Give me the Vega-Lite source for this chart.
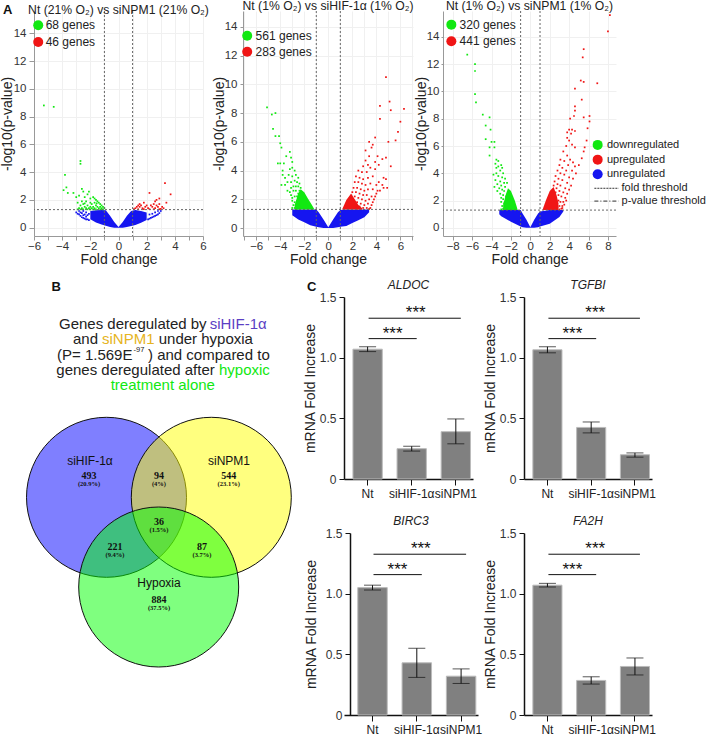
{"$schema":"https://vega.github.io/schema/vega-lite/v6.json","padding":{"left":0,"top":0,"right":0,"bottom":0},"spacing":12,"align":"none",
"config":{"font":"Liberation Sans","view":{"stroke":null},"axis":{"labelFont":"Liberation Sans","titleFont":"Liberation Sans","titleFontWeight":"normal"},"title":{"font":"Liberation Sans","fontWeight":"normal"},"text":{"font":"Liberation Sans"}},
"datasets":{
"th":[{"x":-1},{"x":1}],"p":[{"y":1.3}],
"l1":[{"x":-5.7,"y":14.57,"g":"d","t":"68 genes","tx":-5.17},{"x":-5.7,"y":13.37,"g":"u","t":"46 genes","tx":-5.17}],
"l2":[{"x":-6.75,"y":13.38,"g":"d","t":"561 genes","tx":-6.05},{"x":-6.75,"y":12.27,"g":"u","t":"283 genes","tx":-6.05}],
"l3":[{"x":-8.14,"y":14.9,"g":"d","t":"320 genes","tx":-7.29},{"x":-8.14,"y":13.68,"g":"u","t":"441 genes","tx":-7.29}],
"l4":[{"x":6.94,"y":6.08,"g":"d","t":"downregulated","tx":7.9},{"x":6.94,"y":5.0,"g":"u","t":"upregulated","tx":7.9},{"x":6.94,"y":3.93,"g":"n","t":"unregulated","tx":7.9}],
"a1b":[{"x":-2.0,"lo":0.6,"hi":1.2},{"x":-1.6,"lo":0.38,"hi":1.25},{"x":-1.2,"lo":0.22,"hi":1.28},{"x":-0.9,"lo":0.14,"hi":1.25},{"x":-0.6,"lo":0.05,"hi":0.85},{"x":-0.3,"lo":0,"hi":0.4},{"x":0,"lo":0,"hi":0.05},{"x":0.3,"lo":0,"hi":0.4},{"x":0.6,"lo":0.05,"hi":0.85},{"x":0.9,"lo":0.12,"hi":1.2},{"x":1.2,"lo":0.2,"hi":1.28},{"x":1.6,"lo":0.35,"hi":1.2},{"x":2.0,"lo":0.55,"hi":1.1}],
"a2b":[{"x":-3.0,"lo":0.9,"hi":1.3},{"x":-2.5,"lo":0.6,"hi":1.3},{"x":-2,"lo":0.4,"hi":1.3},{"x":-1.5,"lo":0.2,"hi":1.3},{"x":-1,"lo":0.1,"hi":1.3},{"x":-0.8,"lo":0.05,"hi":1.1},{"x":-0.4,"lo":0,"hi":0.6},{"x":0,"lo":0,"hi":0.05},{"x":0.4,"lo":0,"hi":0.6},{"x":0.8,"lo":0.05,"hi":1.1},{"x":1,"lo":0.1,"hi":1.25},{"x":1.5,"lo":0.15,"hi":1.3},{"x":2,"lo":0.35,"hi":1.3},{"x":2.5,"lo":0.55,"hi":1.3},{"x":3,"lo":0.75,"hi":1.3},{"x":3.4,"lo":1.1,"hi":1.3}],
"a2g":[{"x":-2.8,"lo":1.3,"hi":1.6},{"x":-2.5,"lo":1.3,"hi":2.4},{"x":-2.3,"lo":1.3,"hi":2.7},{"x":-2,"lo":1.3,"hi":2.5},{"x":-1.7,"lo":1.3,"hi":2.05},{"x":-1.4,"lo":1.3,"hi":1.65},{"x":-1.15,"lo":1.3,"hi":1.3}],
"a2r":[{"x":1.15,"lo":1.3,"hi":1.3},{"x":1.5,"lo":1.3,"hi":1.95},{"x":1.9,"lo":1.3,"hi":2.4},{"x":2.2,"lo":1.3,"hi":2.0},{"x":2.5,"lo":1.3,"hi":1.6},{"x":2.8,"lo":1.3,"hi":1.4}],
"a3b":[{"x":-3.2,"lo":1.0,"hi":1.3},{"x":-3,"lo":0.85,"hi":1.3},{"x":-2,"lo":0.45,"hi":1.3},{"x":-1,"lo":0.1,"hi":1.3},{"x":-0.8,"lo":0.05,"hi":1.05},{"x":-0.4,"lo":0,"hi":0.6},{"x":0,"lo":0,"hi":0.05},{"x":0.4,"lo":0,"hi":0.6},{"x":0.8,"lo":0.05,"hi":1.05},{"x":1,"lo":0.1,"hi":1.2},{"x":2,"lo":0.3,"hi":1.3},{"x":3,"lo":0.8,"hi":1.3},{"x":3.4,"lo":1.2,"hi":1.3}],
"a3g":[{"x":-2.8,"lo":1.3,"hi":1.7},{"x":-2.5,"lo":1.3,"hi":2.5},{"x":-2.3,"lo":1.3,"hi":2.9},{"x":-2,"lo":1.3,"hi":2.7},{"x":-1.6,"lo":1.3,"hi":2.0},{"x":-1.3,"lo":1.3,"hi":1.3}],
"a3r":[{"x":1.25,"lo":1.3,"hi":1.3},{"x":1.6,"lo":1.3,"hi":2.0},{"x":2,"lo":1.3,"hi":2.7},{"x":2.4,"lo":1.3,"hi":3.0},{"x":2.7,"lo":1.3,"hi":2.4},{"x":2.9,"lo":1.3,"hi":1.8}],
"v1":[{"x":-5.3,"y":8.8,"g":"d"},{"x":-4.6,"y":8.7,"g":"d"},{"x":-2.7,"y":4.8,"g":"d"},{"x":-2.7,"y":4.6,"g":"d"},{"x":-3.8,"y":3.8,"g":"d"},{"x":-3.7,"y":2.9,"g":"d"},{"x":-3.9,"y":2.7,"g":"d"},{"x":-3.6,"y":2.5,"g":"d"},{"x":-3.2,"y":2.5,"g":"d"},{"x":-3.0,"y":2.2,"g":"d"},{"x":-2.6,"y":2.8,"g":"d"},{"x":-2.5,"y":2.6,"g":"d"},{"x":-2.1,"y":2.6,"g":"d"},{"x":-2.2,"y":2.4,"g":"d"},{"x":-2.8,"y":2.3,"g":"d"},{"x":-2.4,"y":2.2,"g":"d"},{"x":-2.0,"y":2.1,"g":"d"},{"x":-1.8,"y":2.2,"g":"d"},{"x":-1.7,"y":2.1,"g":"d"},{"x":-1.6,"y":2.0,"g":"d"},{"x":-1.5,"y":1.9,"g":"d"},{"x":-2.6,"y":1.9,"g":"d"},{"x":-2.9,"y":1.8,"g":"d"},{"x":-2.3,"y":1.9,"g":"d"},{"x":-2.0,"y":1.8,"g":"d"},{"x":-1.7,"y":1.8,"g":"d"},{"x":-1.4,"y":1.8,"g":"d"},{"x":-1.3,"y":1.7,"g":"d"},{"x":-1.9,"y":1.7,"g":"d"},{"x":-2.5,"y":1.7,"g":"d"},{"x":-2.7,"y":1.6,"g":"d"},{"x":-2.2,"y":1.6,"g":"d"},{"x":-1.6,"y":1.6,"g":"d"},{"x":-1.2,"y":1.6,"g":"d"},{"x":-2.4,"y":1.5,"g":"d"},{"x":-2.0,"y":1.5,"g":"d"},{"x":-1.8,"y":1.5,"g":"d"},{"x":-1.5,"y":1.5,"g":"d"},{"x":-1.3,"y":1.5,"g":"d"},{"x":-1.1,"y":1.5,"g":"d"},{"x":-2.8,"y":1.4,"g":"d"},{"x":-2.6,"y":1.4,"g":"d"},{"x":-2.3,"y":1.4,"g":"d"},{"x":-2.1,"y":1.4,"g":"d"},{"x":-1.9,"y":1.4,"g":"d"},{"x":-1.7,"y":1.4,"g":"d"},{"x":-1.4,"y":1.4,"g":"d"},{"x":-1.2,"y":1.4,"g":"d"},{"x":-1.0,"y":1.4,"g":"d"},{"x":-2.9,"y":1.32,"g":"d"},{"x":-2.7,"y":1.32,"g":"d"},{"x":-2.5,"y":1.32,"g":"d"},{"x":-2.2,"y":1.32,"g":"d"},{"x":-2.0,"y":1.32,"g":"d"},{"x":-1.8,"y":1.32,"g":"d"},{"x":-1.6,"y":1.32,"g":"d"},{"x":-1.3,"y":1.32,"g":"d"},{"x":-1.1,"y":1.32,"g":"d"},{"x":-2.4,"y":1.75,"g":"d"},{"x":-1.55,"y":1.75,"g":"d"},
{"x":3.3,"y":3.2,"g":"u"},{"x":3.7,"y":2.4,"g":"u"},{"x":2.2,"y":2.5,"g":"u"},{"x":2.9,"y":2.1,"g":"u"},{"x":2.7,"y":2.0,"g":"u"},{"x":2.6,"y":1.9,"g":"u"},{"x":3.4,"y":1.8,"g":"u"},{"x":2.5,"y":1.7,"g":"u"},{"x":2.9,"y":1.7,"g":"u"},{"x":1.8,"y":1.8,"g":"u"},{"x":1.5,"y":1.7,"g":"u"},{"x":1.4,"y":1.6,"g":"u"},{"x":1.6,"y":1.6,"g":"u"},{"x":2.0,"y":1.6,"g":"u"},{"x":2.3,"y":1.6,"g":"u"},{"x":2.7,"y":1.6,"g":"u"},{"x":3.1,"y":1.5,"g":"u"},{"x":1.3,"y":1.5,"g":"u"},{"x":1.5,"y":1.5,"g":"u"},{"x":1.9,"y":1.5,"g":"u"},{"x":2.4,"y":1.5,"g":"u"},{"x":2.8,"y":1.5,"g":"u"},{"x":3.2,"y":1.4,"g":"u"},{"x":1.2,"y":1.4,"g":"u"},{"x":1.7,"y":1.4,"g":"u"},{"x":2.1,"y":1.4,"g":"u"},{"x":2.6,"y":1.4,"g":"u"},{"x":3.0,"y":1.35,"g":"u"},{"x":1.1,"y":1.33,"g":"u"},{"x":1.4,"y":1.33,"g":"u"},{"x":1.8,"y":1.33,"g":"u"},{"x":2.2,"y":1.33,"g":"u"},{"x":2.5,"y":1.33,"g":"u"},{"x":2.9,"y":1.33,"g":"u"},
{"x":-3.0,"y":1.1,"g":"n"},{"x":-2.9,"y":1.0,"g":"n"},{"x":-2.8,"y":1.2,"g":"n"},{"x":-2.8,"y":0.95,"g":"n"},{"x":-2.7,"y":1.1,"g":"n"},{"x":-2.7,"y":0.85,"g":"n"},{"x":-2.6,"y":0.75,"g":"n"},{"x":-2.6,"y":1.05,"g":"n"},{"x":-2.5,"y":0.9,"g":"n"},{"x":-2.5,"y":0.7,"g":"n"},{"x":-2.5,"y":1.2,"g":"n"},{"x":-2.4,"y":0.65,"g":"n"},{"x":-2.4,"y":0.95,"g":"n"},{"x":-2.3,"y":0.8,"g":"n"},{"x":-2.3,"y":0.6,"g":"n"},{"x":-2.3,"y":1.1,"g":"n"},{"x":-2.2,"y":0.6,"g":"n"},{"x":-2.2,"y":0.9,"g":"n"},{"x":-2.1,"y":0.55,"g":"n"},{"x":-2.1,"y":1.0,"g":"n"},{"x":2.1,"y":0.6,"g":"n"},{"x":2.2,"y":0.65,"g":"n"},{"x":2.2,"y":0.95,"g":"n"},{"x":2.3,"y":0.7,"g":"n"},{"x":2.4,"y":0.75,"g":"n"},{"x":2.4,"y":1.0,"g":"n"},{"x":2.5,"y":0.8,"g":"n"},{"x":2.6,"y":0.85,"g":"n"},{"x":2.6,"y":1.1,"g":"n"},{"x":2.7,"y":0.9,"g":"n"},{"x":2.8,"y":0.95,"g":"n"},{"x":2.8,"y":1.2,"g":"n"},{"x":2.9,"y":1.05,"g":"n"},{"x":3.0,"y":1.2,"g":"n"}],
"v2":[{"x":-5.1,"y":8.4,"g":"d"},{"x":-4.7,"y":7.9,"g":"d"},{"x":-4.4,"y":8.0,"g":"d"},{"x":-4.6,"y":6.9,"g":"d"},{"x":-4.4,"y":6.4,"g":"d"},{"x":-4.1,"y":6.4,"g":"d"},{"x":-4.0,"y":5.9,"g":"d"},{"x":-3.9,"y":5.6,"g":"d"},{"x":-3.2,"y":5.3,"g":"d"},{"x":-3.5,"y":5.0,"g":"d"},{"x":-3.1,"y":4.9,"g":"d"},{"x":-4.2,"y":4.5,"g":"d"},{"x":-4.0,"y":4.5,"g":"d"},{"x":-3.7,"y":4.5,"g":"d"},{"x":-3.0,"y":4.6,"g":"d"},{"x":-3.8,"y":4.0,"g":"d"},{"x":-3.2,"y":4.1,"g":"d"},{"x":-3.0,"y":4.2,"g":"d"},{"x":-2.8,"y":4.0,"g":"d"},{"x":-3.8,"y":3.7,"g":"d"},{"x":-3.6,"y":3.5,"g":"d"},{"x":-3.3,"y":3.7,"g":"d"},{"x":-3.0,"y":3.6,"g":"d"},{"x":-2.7,"y":3.7,"g":"d"},{"x":-2.5,"y":3.5,"g":"d"},{"x":-3.6,"y":3.0,"g":"d"},{"x":-3.4,"y":3.2,"g":"d"},{"x":-3.1,"y":3.2,"g":"d"},{"x":-2.8,"y":3.3,"g":"d"},{"x":-2.6,"y":3.2,"g":"d"},{"x":-2.4,"y":3.1,"g":"d"},{"x":-3.9,"y":3.0,"g":"d"},{"x":-3.1,"y":2.8,"g":"d"},{"x":-2.9,"y":2.9,"g":"d"},{"x":-2.7,"y":2.9,"g":"d"},{"x":-2.5,"y":2.9,"g":"d"},{"x":-2.3,"y":2.8,"g":"d"},{"x":-3.4,"y":2.6,"g":"d"},{"x":-3.2,"y":2.5,"g":"d"},{"x":-2.9,"y":2.6,"g":"d"},{"x":-2.7,"y":2.6,"g":"d"},{"x":-2.5,"y":2.4,"g":"d"},{"x":-3.1,"y":2.3,"g":"d"},{"x":-3.0,"y":2.1,"g":"d"},{"x":-2.8,"y":2.2,"g":"d"},{"x":-2.6,"y":2.2,"g":"d"},{"x":-3.0,"y":1.9,"g":"d"},{"x":-2.8,"y":1.8,"g":"d"},{"x":-2.6,"y":1.9,"g":"d"},{"x":-2.9,"y":1.6,"g":"d"},{"x":-2.7,"y":1.5,"g":"d"},{"x":-2.5,"y":1.6,"g":"d"},{"x":-2.8,"y":1.4,"g":"d"},{"x":-3.0,"y":1.4,"g":"d"},{"x":-2.6,"y":1.35,"g":"d"},{"x":-2.4,"y":2.6,"g":"d"},{"x":-2.2,"y":2.5,"g":"d"},{"x":-2.4,"y":1.5,"g":"d"},
{"x":4.8,"y":10.5,"g":"u"},{"x":5.1,"y":8.8,"g":"u"},{"x":4.3,"y":8.5,"g":"u"},{"x":5.2,"y":8.2,"g":"u"},{"x":6.3,"y":8.3,"g":"u"},{"x":4.3,"y":7.6,"g":"u"},{"x":6.0,"y":7.4,"g":"u"},{"x":5.8,"y":6.7,"g":"u"},{"x":3.9,"y":6.3,"g":"u"},{"x":5.6,"y":6.1,"g":"u"},{"x":5.0,"y":6.0,"g":"u"},{"x":3.4,"y":6.0,"g":"u"},{"x":3.6,"y":5.6,"g":"u"},{"x":3.7,"y":5.8,"g":"u"},{"x":3.1,"y":5.4,"g":"u"},{"x":3.4,"y":5.0,"g":"u"},{"x":4.1,"y":5.0,"g":"u"},{"x":3.9,"y":4.6,"g":"u"},{"x":4.5,"y":4.8,"g":"u"},{"x":4.8,"y":4.9,"g":"u"},{"x":3.1,"y":4.7,"g":"u"},{"x":3.3,"y":4.4,"g":"u"},{"x":2.9,"y":4.3,"g":"u"},{"x":3.5,"y":4.2,"g":"u"},{"x":4.2,"y":4.4,"g":"u"},{"x":5.2,"y":4.3,"g":"u"},{"x":2.5,"y":4.0,"g":"u"},{"x":2.8,"y":3.9,"g":"u"},{"x":3.2,"y":3.9,"g":"u"},{"x":3.9,"y":4.1,"g":"u"},{"x":4.6,"y":3.5,"g":"u"},{"x":4.8,"y":3.4,"g":"u"},{"x":4.2,"y":3.2,"g":"u"},{"x":4.5,"y":3.0,"g":"u"},{"x":4.6,"y":2.8,"g":"u"},{"x":4.9,"y":2.8,"g":"u"},{"x":2.3,"y":3.6,"g":"u"},{"x":2.6,"y":3.5,"g":"u"},{"x":2.9,"y":3.4,"g":"u"},{"x":3.3,"y":3.5,"g":"u"},{"x":3.7,"y":3.6,"g":"u"},{"x":2.2,"y":3.2,"g":"u"},{"x":2.5,"y":3.2,"g":"u"},{"x":2.8,"y":3.1,"g":"u"},{"x":3.1,"y":3.0,"g":"u"},{"x":3.5,"y":3.1,"g":"u"},{"x":4.0,"y":3.0,"g":"u"},{"x":4.3,"y":2.6,"g":"u"},{"x":2.1,"y":2.8,"g":"u"},{"x":2.4,"y":2.8,"g":"u"},{"x":2.7,"y":2.7,"g":"u"},{"x":3.0,"y":2.6,"g":"u"},{"x":3.3,"y":2.7,"g":"u"},{"x":3.7,"y":2.7,"g":"u"},{"x":4.0,"y":2.4,"g":"u"},{"x":4.1,"y":2.6,"g":"u"},{"x":2.0,"y":2.5,"g":"u"},{"x":2.3,"y":2.5,"g":"u"},{"x":2.6,"y":2.4,"g":"u"},{"x":2.9,"y":2.3,"g":"u"},{"x":3.2,"y":2.3,"g":"u"},{"x":3.6,"y":2.2,"g":"u"},{"x":3.9,"y":2.2,"g":"u"},{"x":3.8,"y":2.0,"g":"u"},{"x":1.9,"y":2.2,"g":"u"},{"x":2.2,"y":2.2,"g":"u"},{"x":2.5,"y":2.1,"g":"u"},{"x":2.8,"y":2.0,"g":"u"},{"x":3.1,"y":1.9,"g":"u"},{"x":3.4,"y":2.0,"g":"u"},{"x":3.7,"y":1.8,"g":"u"},{"x":2.1,"y":1.9,"g":"u"},{"x":2.4,"y":1.8,"g":"u"},{"x":2.7,"y":1.7,"g":"u"},{"x":3.0,"y":1.6,"g":"u"},{"x":3.3,"y":1.7,"g":"u"},{"x":3.6,"y":1.6,"g":"u"},{"x":3.5,"y":1.4,"g":"u"},{"x":3.2,"y":1.4,"g":"u"},{"x":2.9,"y":1.4,"g":"u"},{"x":2.6,"y":1.5,"g":"u"},{"x":2.3,"y":1.5,"g":"u"},{"x":2.4,"y":1.35,"g":"u"},{"x":2.7,"y":1.33,"g":"u"},{"x":3.4,"y":1.33,"g":"u"}],
"v3":[{"x":-6.5,"y":12.7,"g":"d"},{"x":-5.7,"y":12,"g":"d"},{"x":-5.7,"y":11.5,"g":"d"},{"x":-5.7,"y":9.8,"g":"d"},{"x":-5.6,"y":9.2,"g":"d"},{"x":-4.9,"y":8.3,"g":"d"},{"x":-4.2,"y":8.1,"g":"d"},{"x":-4.6,"y":7.5,"g":"d"},{"x":-4.1,"y":7.2,"g":"d"},{"x":-4.6,"y":6.5,"g":"d"},{"x":-4,"y":6.3,"g":"d"},{"x":-3.7,"y":6.3,"g":"d"},{"x":-4.2,"y":5.9,"g":"d"},{"x":-3.7,"y":5.9,"g":"d"},{"x":-4.2,"y":5.3,"g":"d"},{"x":-3.5,"y":5.0,"g":"d"},{"x":-3.3,"y":4.9,"g":"d"},{"x":-3.6,"y":4.7,"g":"d"},{"x":-3.0,"y":4.6,"g":"d"},{"x":-3.3,"y":4.5,"g":"d"},{"x":-3.5,"y":4.4,"g":"d"},{"x":-2.9,"y":4.4,"g":"d"},{"x":-3.1,"y":4.2,"g":"d"},{"x":-3.5,"y":4.0,"g":"d"},{"x":-3.8,"y":3.9,"g":"d"},{"x":-2.8,"y":4.0,"g":"d"},{"x":-3.3,"y":3.8,"g":"d"},{"x":-2.9,"y":3.7,"g":"d"},{"x":-3.6,"y":3.5,"g":"d"},{"x":-2.6,"y":3.6,"g":"d"},{"x":-3.1,"y":3.4,"g":"d"},{"x":-3.4,"y":3.2,"g":"d"},{"x":-2.7,"y":3.3,"g":"d"},{"x":-2.4,"y":3.3,"g":"d"},{"x":-3.0,"y":3.1,"g":"d"},{"x":-3.7,"y":3.0,"g":"d"},{"x":-2.6,"y":3.0,"g":"d"},{"x":-3.2,"y":2.9,"g":"d"},{"x":-2.9,"y":2.8,"g":"d"},{"x":-3.4,"y":2.7,"g":"d"},{"x":-2.7,"y":2.7,"g":"d"},{"x":-3.1,"y":2.5,"g":"d"},{"x":-2.8,"y":2.4,"g":"d"},{"x":-3.0,"y":2.2,"g":"d"},{"x":-2.5,"y":2.3,"g":"d"},{"x":-2.8,"y":2.1,"g":"d"},{"x":-3.0,"y":1.9,"g":"d"},{"x":-2.7,"y":1.8,"g":"d"},{"x":-2.9,"y":1.6,"g":"d"},{"x":-2.6,"y":1.6,"g":"d"},{"x":-2.8,"y":1.4,"g":"d"},{"x":-3.0,"y":1.35,"g":"d"},{"x":-2.5,"y":1.4,"g":"d"},
{"x":8.2,"y":15.6,"g":"u"},{"x":8.0,"y":14.4,"g":"u"},{"x":5.5,"y":13.1,"g":"u"},{"x":5.4,"y":12.5,"g":"u"},{"x":5.2,"y":10.8,"g":"u"},{"x":5.5,"y":10.7,"g":"u"},{"x":6.9,"y":10.6,"g":"u"},{"x":4.6,"y":10.2,"g":"u"},{"x":5.3,"y":9.4,"g":"u"},{"x":4.6,"y":8.9,"g":"u"},{"x":4.6,"y":8.6,"g":"u"},{"x":6.1,"y":8.2,"g":"u"},{"x":5.5,"y":8.1,"g":"u"},{"x":4.5,"y":8.2,"g":"u"},{"x":4.1,"y":8,"g":"u"},{"x":6.1,"y":7.8,"g":"u"},{"x":5.9,"y":7.3,"g":"u"},{"x":4.0,"y":7.2,"g":"u"},{"x":4.3,"y":7.2,"g":"u"},{"x":3.8,"y":7.0,"g":"u"},{"x":4.6,"y":7.1,"g":"u"},{"x":4.2,"y":6.9,"g":"u"},{"x":3.8,"y":6.6,"g":"u"},{"x":4,"y":6.4,"g":"u"},{"x":4.3,"y":6.1,"g":"u"},{"x":3.7,"y":6,"g":"u"},{"x":4.6,"y":5.9,"g":"u"},{"x":5.8,"y":6.4,"g":"u"},{"x":5.6,"y":5.9,"g":"u"},{"x":5.5,"y":5.6,"g":"u"},{"x":5.3,"y":5.1,"g":"u"},{"x":3.4,"y":5.6,"g":"u"},{"x":3.8,"y":5.3,"g":"u"},{"x":4.1,"y":5.0,"g":"u"},{"x":4.4,"y":4.8,"g":"u"},{"x":3.1,"y":5.0,"g":"u"},{"x":3.5,"y":4.9,"g":"u"},{"x":3.9,"y":4.6,"g":"u"},{"x":4.6,"y":4.5,"g":"u"},{"x":5.0,"y":4.6,"g":"u"},{"x":3.0,"y":4.6,"g":"u"},{"x":3.3,"y":4.4,"g":"u"},{"x":3.7,"y":4.2,"g":"u"},{"x":4.3,"y":4.2,"g":"u"},{"x":4.7,"y":4.0,"g":"u"},{"x":2.8,"y":4.2,"g":"u"},{"x":3.1,"y":4.0,"g":"u"},{"x":3.5,"y":3.9,"g":"u"},{"x":4.0,"y":3.7,"g":"u"},{"x":4.4,"y":3.6,"g":"u"},{"x":2.6,"y":3.8,"g":"u"},{"x":2.9,"y":3.6,"g":"u"},{"x":3.3,"y":3.5,"g":"u"},{"x":3.8,"y":3.3,"g":"u"},{"x":4.2,"y":3.1,"g":"u"},{"x":2.5,"y":3.4,"g":"u"},{"x":2.8,"y":3.2,"g":"u"},{"x":3.1,"y":3.1,"g":"u"},{"x":3.6,"y":2.9,"g":"u"},{"x":4.0,"y":2.8,"g":"u"},{"x":2.4,"y":3.1,"g":"u"},{"x":2.7,"y":2.9,"g":"u"},{"x":3.0,"y":2.7,"g":"u"},{"x":3.4,"y":2.6,"g":"u"},{"x":3.8,"y":2.5,"g":"u"},{"x":2.3,"y":2.8,"g":"u"},{"x":2.6,"y":2.6,"g":"u"},{"x":2.9,"y":2.4,"g":"u"},{"x":3.2,"y":2.3,"g":"u"},{"x":3.6,"y":2.2,"g":"u"},{"x":3.7,"y":2.0,"g":"u"},{"x":3.4,"y":1.9,"g":"u"},{"x":3.5,"y":1.7,"g":"u"},{"x":3.1,"y":1.9,"g":"u"},{"x":3.3,"y":1.6,"g":"u"},{"x":2.9,"y":2.0,"g":"u"},{"x":3.0,"y":1.6,"g":"u"},{"x":3.2,"y":1.4,"g":"u"},{"x":2.8,"y":1.5,"g":"u"},{"x":3.0,"y":1.35,"g":"u"},{"x":2.6,"y":2.2,"g":"u"},{"x":3.3,"y":1.45,"g":"u"}],
"bars":[{"gene":"ALDOC","c":"Nt","v":1.07,"lo":1.05,"hi":1.09},{"gene":"ALDOC","c":"siHIF-1α","v":0.25,"lo":0.23,"hi":0.27},{"gene":"ALDOC","c":"siNPM1","v":0.39,"lo":0.29,"hi":0.495},{"gene":"TGFBI","c":"Nt","v":1.065,"lo":1.04,"hi":1.09},{"gene":"TGFBI","c":"siHIF-1α","v":0.425,"lo":0.38,"hi":0.47},{"gene":"TGFBI","c":"siNPM1","v":0.2,"lo":0.18,"hi":0.215},{"gene":"BIRC3","c":"Nt","v":1.05,"lo":1.03,"hi":1.07},{"gene":"BIRC3","c":"siHIF-1α","v":0.43,"lo":0.31,"hi":0.55},{"gene":"BIRC3","c":"siNPM1","v":0.32,"lo":0.26,"hi":0.38},{"gene":"FA2H","c":"Nt","v":1.07,"lo":1.055,"hi":1.085},{"gene":"FA2H","c":"siHIF-1α","v":0.285,"lo":0.255,"hi":0.315},{"gene":"FA2H","c":"siNPM1","v":0.4,"lo":0.33,"hi":0.47}],
"sig":[{"a":"Nt","b":"siNPM1","v":1.325},{"a":"Nt","b":"siHIF-1α","v":1.157}],
"s1":[{"c":"siHIF-1α","v":1.39,"t":"***"}],"s2":[{"c":"Nt","v":1.22,"t":"***"}],
"vc":[{"x":107.5,"y":497,"k":"b"},{"x":212.3,"y":497,"k":"y"},{"x":159.7,"y":586.7,"k":"g"}],
"vn":[{"x":90,"y":475.7,"t":"493","p":"(20.9%)"},{"x":160,"y":475.7,"t":"94","p":"(4%)"},{"x":229.7,"y":475.7,"t":"544","p":"(23.1%)"},{"x":160,"y":522,"t":"36","p":"(1.5%)"},{"x":116,"y":547,"t":"221","p":"(9.4%)"},{"x":203,"y":547,"t":"87","p":"(3.7%)"},{"x":160,"y":600,"t":"884","p":"(37.5%)"}],
"vl":[{"x":91,"y":460.7,"t":"siHIF-1α"},{"x":230,"y":460.7,"t":"siNPM1"},{"x":160,"y":583,"t":"Hypoxia"}],
"hd":[{"x":60,"y":323.3,"t":"Genes deregulated by ","k":"p"},{"x":210.7,"y":323.3,"t":"siHIF-1α","k":"h"},{"x":74,"y":339,"t":"and ","k":"p"},{"x":103,"y":339,"t":"siNPM1","k":"m"},{"x":159.7,"y":339,"t":"under hypoxia","k":"p"},{"x":58,"y":354.3,"t":"(P= 1.569E","k":"p"},{"x":149,"y":354.3,"t":") and compared to","k":"p"},{"x":57.3,"y":370,"t":"genes deregulated after ","k":"p"},{"x":220,"y":370,"t":"hypoxic","k":"d"},{"x":111.7,"y":385,"t":"treatment alone","k":"d"}]
},
"vconcat":[
{"align":"none","hconcat":[
{"align":"none","hconcat":[
{"width":169,"height":225,"title":{"text":"Nt (21% O₂) vs siNPM1 (21% O₂)","fontSize":12.2,"offset":-13,"color":"#222"},
"layer":[
{"data":{"name":"a1b"},"mark":{"type":"area","color":"#1515f0"},"encoding":{"x":{"field":"x","type":"quantitative","title":"Fold change","scale":{"domain":[-6,6],"nice":false,"zero":false},"axis":{"values":[-6,-5,-4,-3,-2,-1,0,1,2,3,4,5,6],"tickCount":30,"format":"d","labelExpr":"datum.value%2==0?datum.label:''","labelOverlap":false,"labelFlush":false,"grid":true,"gridColor":"#f0f0f0","domainColor":"#999","tickColor":"#999","labelColor":"#333","labelFontSize":11.5,"titleFontSize":14,"titleColor":"#222","tickSize":4,"labelPadding":0,"titlePadding":1}},"y":{"field":"lo","type":"quantitative","title":"-log10(p-value)","scale":{"domain":[-0.6,15.6],"nice":false,"zero":false},"axis":{"values":[0,2,4,6,8,10,12,14],"tickCount":30,"format":"d","labelOverlap":false,"labelFlush":false,"grid":true,"gridColor":"#f0f0f0","domainColor":"#999","tickColor":"#999","labelColor":"#333","labelFontSize":11.5,"titleFontSize":14,"titleColor":"#222","tickSize":5,"labelPadding":3,"titlePadding":-1}},"y2":{"field":"hi"}}},
{"data":{"name":"v1"},"mark":{"type":"point","shape":"square","filled":true,"size":3,"opacity":1},"encoding":{"x":{"field":"x","type":"quantitative"},"y":{"field":"y","type":"quantitative"},"color":{"field":"g","type":"nominal","legend":null,"scale":{"domain":["d","u","n","p","h","m"],"range":["#11e811","#f01515","#1515f0","#222222","#5b3fc4","#e6b422"]}}}},
{"data":{"name":"th"},"mark":{"type":"rule","color":"#666","strokeDash":[2,2],"strokeWidth":1},"encoding":{"x":{"field":"x","type":"quantitative"}}},
{"data":{"name":"p"},"mark":{"type":"rule","color":"#666","strokeDash":[2,2],"strokeWidth":1},"encoding":{"y":{"field":"y","type":"quantitative"}}},
{"data":{"name":"l1"},"mark":{"type":"point","filled":true,"size":100,"opacity":1},"encoding":{"x":{"field":"x","type":"quantitative"},"y":{"field":"y","type":"quantitative"},"color":{"field":"g","type":"nominal","legend":null}}},
{"data":{"name":"l1"},"mark":{"type":"text","align":"left","baseline":"middle","fontSize":12,"color":"#222"},"encoding":{"x":{"field":"tx","type":"quantitative"},"y":{"field":"y","type":"quantitative"},"text":{"field":"t"}}},
{"data":{"values":[{"x":-8.2,"y":15.7,"t":"A"}]},"mark":{"type":"text","align":"left","baseline":"middle","fontSize":13,"fontWeight":"bold","color":"#111"},"encoding":{"x":{"field":"x","type":"quantitative"},"y":{"field":"y","type":"quantitative"},"text":{"field":"t"}}}
]},
{"width":170,"height":225,"title":{"text":"Nt (1% O₂) vs siHIF-1α (1% O₂)","fontSize":12.2,"offset":-2,"color":"#222"},
"layer":[
{"data":{"name":"a2b"},"mark":{"type":"area","color":"#1515f0"},"encoding":{"x":{"field":"x","type":"quantitative","title":"Fold change","scale":{"domain":[-7.1,7.05],"nice":false,"zero":false},"axis":{"values":[-7,-6,-5,-4,-3,-2,-1,0,1,2,3,4,5,6,7],"tickCount":30,"format":"d","labelExpr":"datum.value%2==0?datum.label:''","labelOverlap":false,"labelFlush":false,"grid":true,"gridColor":"#f0f0f0","domainColor":"#999","tickColor":"#999","labelColor":"#333","labelFontSize":11.5,"titleFontSize":14,"titleColor":"#222","tickSize":4,"labelPadding":0,"titlePadding":1}},"y":{"field":"lo","type":"quantitative","title":"-log10(p-value)","scale":{"domain":[-0.55,15.1],"nice":false,"zero":false},"axis":{"values":[0,2,4,6,8,10,12,14],"tickCount":30,"format":"d","labelOverlap":false,"labelFlush":false,"grid":true,"gridColor":"#f0f0f0","domainColor":"#999","tickColor":"#999","labelColor":"#333","labelFontSize":11.5,"titleFontSize":14,"titleColor":"#222","tickSize":3,"labelPadding":3,"titlePadding":-2}},"y2":{"field":"hi"}}},
{"data":{"name":"a2g"},"mark":{"type":"area","color":"#11e811"},"encoding":{"x":{"field":"x","type":"quantitative"},"y":{"field":"lo","type":"quantitative"},"y2":{"field":"hi"}}},
{"data":{"name":"a2r"},"mark":{"type":"area","color":"#f01515"},"encoding":{"x":{"field":"x","type":"quantitative"},"y":{"field":"lo","type":"quantitative"},"y2":{"field":"hi"}}},
{"data":{"name":"v2"},"mark":{"type":"point","shape":"square","filled":true,"size":3,"opacity":1},"encoding":{"x":{"field":"x","type":"quantitative"},"y":{"field":"y","type":"quantitative"},"color":{"field":"g","type":"nominal","legend":null}}},
{"data":{"name":"th"},"mark":{"type":"rule","color":"#666","strokeDash":[2,2],"strokeWidth":1},"encoding":{"x":{"field":"x","type":"quantitative"}}},
{"data":{"name":"p"},"mark":{"type":"rule","color":"#666","strokeDash":[2,2],"strokeWidth":1},"encoding":{"y":{"field":"y","type":"quantitative"}}},
{"data":{"name":"l2"},"mark":{"type":"point","filled":true,"size":100,"opacity":1},"encoding":{"x":{"field":"x","type":"quantitative"},"y":{"field":"y","type":"quantitative"},"color":{"field":"g","type":"nominal","legend":null}}},
{"data":{"name":"l2"},"mark":{"type":"text","align":"left","baseline":"middle","fontSize":12,"color":"#222"},"encoding":{"x":{"field":"tx","type":"quantitative"},"y":{"field":"y","type":"quantitative"},"text":{"field":"t"}}}
]}
],"spacing":3},
{"width":173,"height":225,"title":{"text":"Nt (1% O₂) vs siNPM1 (1% O₂)","fontSize":12.2,"offset":-2,"color":"#222"},
"layer":[
{"data":{"name":"a3b"},"mark":{"type":"area","color":"#1515f0"},"encoding":{"x":{"field":"x","type":"quantitative","title":"Fold change","scale":{"domain":[-9,8.83],"nice":false,"zero":false},"axis":{"values":[-8,-6,-4,-2,0,2,4,6,8],"tickCount":30,"format":"d","labelOverlap":false,"labelFlush":false,"grid":true,"gridColor":"#f0f0f0","domainColor":"#999","tickColor":"#999","labelColor":"#333","labelFontSize":11.5,"titleFontSize":14,"titleColor":"#222","tickSize":4,"labelPadding":0,"titlePadding":1}},"y":{"field":"lo","type":"quantitative","title":"-log10(p-value)","scale":{"domain":[-0.6,15.9],"nice":false,"zero":false},"axis":{"values":[0,2,4,6,8,10,12,14],"tickCount":30,"format":"d","labelOverlap":false,"labelFlush":false,"grid":true,"gridColor":"#f0f0f0","domainColor":"#999","tickColor":"#999","labelColor":"#333","labelFontSize":11.5,"titleFontSize":14,"titleColor":"#222","tickSize":2,"labelPadding":2,"titlePadding":-2}},"y2":{"field":"hi"}}},
{"data":{"name":"a3g"},"mark":{"type":"area","color":"#11e811"},"encoding":{"x":{"field":"x","type":"quantitative"},"y":{"field":"lo","type":"quantitative"},"y2":{"field":"hi"}}},
{"data":{"name":"a3r"},"mark":{"type":"area","color":"#f01515"},"encoding":{"x":{"field":"x","type":"quantitative"},"y":{"field":"lo","type":"quantitative"},"y2":{"field":"hi"}}},
{"data":{"name":"v3"},"mark":{"type":"point","shape":"square","filled":true,"size":3,"opacity":1},"encoding":{"x":{"field":"x","type":"quantitative"},"y":{"field":"y","type":"quantitative"},"color":{"field":"g","type":"nominal","legend":null}}},
{"data":{"name":"th"},"mark":{"type":"rule","color":"#666","strokeDash":[2,2],"strokeWidth":1},"encoding":{"x":{"field":"x","type":"quantitative"}}},
{"data":{"name":"p"},"mark":{"type":"rule","color":"#666","strokeDash":[2,2],"strokeWidth":1},"encoding":{"y":{"field":"y","type":"quantitative"}}},
{"data":{"name":"l3"},"mark":{"type":"point","filled":true,"size":100,"opacity":1},"encoding":{"x":{"field":"x","type":"quantitative"},"y":{"field":"y","type":"quantitative"},"color":{"field":"g","type":"nominal","legend":null}}},
{"data":{"name":"l3"},"mark":{"type":"text","align":"left","baseline":"middle","fontSize":12,"color":"#222"},"encoding":{"x":{"field":"tx","type":"quantitative"},"y":{"field":"y","type":"quantitative"},"text":{"field":"t"}}},
{"data":{"name":"l4"},"mark":{"type":"point","filled":true,"size":100,"opacity":1},"encoding":{"x":{"field":"x","type":"quantitative"},"y":{"field":"y","type":"quantitative"},"color":{"field":"g","type":"nominal","legend":null}}},
{"data":{"name":"l4"},"mark":{"type":"text","align":"left","baseline":"middle","fontSize":11,"color":"#222"},"encoding":{"x":{"field":"tx","type":"quantitative"},"y":{"field":"y","type":"quantitative"},"text":{"field":"t"}}},
{"data":{"values":[{"x":6.6,"x2":9.1,"y":2.9}]},"mark":{"type":"rule","color":"#333","strokeDash":[2,1],"strokeWidth":1},"encoding":{"x":{"field":"x","type":"quantitative"},"x2":{"field":"x2"},"y":{"field":"y","type":"quantitative"}}},
{"data":{"values":[{"x":6.6,"x2":9.1,"y":1.96}]},"mark":{"type":"rule","color":"#333","strokeDash":[4,2,1,2],"strokeWidth":1},"encoding":{"x":{"field":"x","type":"quantitative"},"x2":{"field":"x2"},"y":{"field":"y","type":"quantitative"}}},
{"data":{"values":[{"tx":9.4,"y":2.9,"t":"fold threshold"},{"tx":9.4,"y":1.96,"t":"p-value threshold"}]},"mark":{"type":"text","align":"left","baseline":"middle","fontSize":11,"color":"#222"},"encoding":{"x":{"field":"tx","type":"quantitative"},"y":{"field":"y","type":"quantitative"},"text":{"field":"t"}}}
]}
],"spacing":0},
{"align":"none","hconcat":[
{"width":290,"height":439.3,"layer":[
{"data":{"name":"vc"},"mark":{"type":"point","filled":true,"size":25600,"fillOpacity":0.5,"opacity":1,"stroke":"#111","strokeWidth":1},"encoding":{"x":{"field":"x","type":"quantitative","axis":null,"scale":{"domain":[35,325],"nice":false,"zero":false}},"y":{"field":"y","type":"quantitative","axis":null,"scale":{"domain":[736,296.7],"nice":false,"zero":false}},"fill":{"field":"k","type":"nominal","legend":null,"sort":null,"scale":{"domain":["b","y","g"],"range":["#0000ff","#ffff00","#00ff00"]}}}},
{"data":{"name":"vn"},"mark":{"type":"text","font":"Liberation Serif","fontWeight":"bold","fontSize":10,"color":"#111","baseline":"middle"},"encoding":{"x":{"field":"x","type":"quantitative"},"y":{"field":"y","type":"quantitative"},"text":{"field":"t"}}},
{"data":{"name":"vn"},"mark":{"type":"text","font":"Liberation Serif","fontWeight":"bold","fontSize":6.5,"color":"#111","baseline":"middle","dy":8},"encoding":{"x":{"field":"x","type":"quantitative"},"y":{"field":"y","type":"quantitative"},"text":{"field":"p"}}},
{"data":{"name":"vl"},"mark":{"type":"text","fontSize":12,"color":"#111","baseline":"middle"},"encoding":{"x":{"field":"x","type":"quantitative"},"y":{"field":"y","type":"quantitative"},"text":{"field":"t"}}},
{"data":{"name":"hd"},"mark":{"type":"text","fontSize":15,"align":"left","baseline":"middle"},"encoding":{"x":{"field":"x","type":"quantitative"},"y":{"field":"y","type":"quantitative"},"text":{"field":"t"},"color":{"field":"k","type":"nominal","legend":null}}},
{"data":{"values":[{"x":134.5,"y":350,"t":"-97"}]},"mark":{"type":"text","fontSize":7.5,"align":"left","baseline":"middle","color":"#222"},"encoding":{"x":{"field":"x","type":"quantitative"},"y":{"field":"y","type":"quantitative"},"text":{"field":"t"}}},
{"data":{"values":[{"x":52.5,"y":287,"t":"B"},{"x":308,"y":287,"t":"C"}]},"mark":{"type":"text","fontSize":13,"fontWeight":"bold","align":"left","baseline":"middle","color":"#111"},"encoding":{"x":{"field":"x","type":"quantitative"},"y":{"field":"y","type":"quantitative"},"text":{"field":"t"}}}
]},
{"align":"none","vconcat":[
{"align":"none","hconcat":[
{"width":129,"height":182,"title":{"text":"ALDOC","fontStyle":"italic","fontSize":12,"offset":-1,"color":"#222"},"data":{"name":"bars"},"transform":[{"filter":"datum.gene=='ALDOC'"}],
"layer":[
{"mark":{"type":"bar","color":"#808080","stroke":"#bbbbbb","strokeWidth":1},"encoding":{"x":{"field":"c","type":"nominal","sort":null,"title":null,"scale":{"domain":["Nt","siHIF-1α","siNPM1"],"paddingInner":0.335,"paddingOuter":0.13,"align":0.78},"axis":{"labelAngle":0,"labelFontSize":12,"labelColor":"#222","domainColor":"#111","domainWidth":1.5,"tickColor":"#111","tickSize":6,"labelPadding":3,"labelOverlap":false}},"y":{"field":"v","type":"quantitative","title":"mRNA Fold Increase","scale":{"domain":[0,1.5],"nice":false},"axis":{"values":[0,0.5,1,1.5],"labelExpr":"datum.value==0?'0':format(datum.value,'.1f')","labelOverlap":false,"labelFlush":false,"grid":false,"labelFontSize":12,"labelColor":"#333","titleFontSize":14,"titleColor":"#222","domainColor":"#111","domainWidth":1.5,"tickColor":"#111","tickSize":5,"labelPadding":3,"titlePadding":2}}}},
{"mark":{"type":"errorbar","ticks":{"size":17,"color":"#111","strokeWidth":1.5},"rule":{"color":"#111","strokeWidth":1}},"encoding":{"x":{"field":"c","type":"nominal"},"y":{"field":"lo","type":"quantitative","title":"mRNA Fold Increase"},"y2":{"field":"hi"}}},
{"data":{"name":"sig"},"transform":[],"mark":{"type":"rule","color":"#111","strokeWidth":1,"xOffset":1,"x2Offset":5},"encoding":{"x":{"field":"a","type":"nominal"},"x2":{"field":"b"},"y":{"field":"v","type":"quantitative"}}},
{"data":{"name":"s1"},"transform":[],"mark":{"type":"text","fontSize":17,"color":"#111","dx":4,"dy":3},"encoding":{"x":{"field":"c","type":"nominal"},"y":{"field":"v","type":"quantitative"},"text":{"field":"t"}}},
{"data":{"name":"s2"},"transform":[],"mark":{"type":"text","fontSize":17,"color":"#111","dx":25,"dy":3},"encoding":{"x":{"field":"c","type":"nominal"},"y":{"field":"v","type":"quantitative"},"text":{"field":"t"}}}
]},
{"width":128,"height":182,"title":{"text":"TGFBI","fontStyle":"italic","fontSize":12,"offset":-1,"color":"#222"},"data":{"name":"bars"},"transform":[{"filter":"datum.gene=='TGFBI'"}],
"layer":[
{"mark":{"type":"bar","color":"#808080","stroke":"#bbbbbb","strokeWidth":1},"encoding":{"x":{"field":"c","type":"nominal","sort":null,"title":null,"scale":{"domain":["Nt","siHIF-1α","siNPM1"],"paddingInner":0.335,"paddingOuter":0.13,"align":0.78},"axis":{"labelAngle":0,"labelFontSize":12,"labelColor":"#222","domainColor":"#111","domainWidth":1.5,"tickColor":"#111","tickSize":6,"labelPadding":3,"labelOverlap":false}},"y":{"field":"v","type":"quantitative","title":"mRNA Fold Increase","scale":{"domain":[0,1.5],"nice":false},"axis":{"values":[0,0.5,1,1.5],"labelExpr":"datum.value==0?'0':format(datum.value,'.1f')","labelOverlap":false,"labelFlush":false,"grid":false,"labelFontSize":12,"labelColor":"#333","titleFontSize":14,"titleColor":"#222","domainColor":"#111","domainWidth":1.5,"tickColor":"#111","tickSize":5,"labelPadding":3,"titlePadding":2}}}},
{"mark":{"type":"errorbar","ticks":{"size":17,"color":"#111","strokeWidth":1.5},"rule":{"color":"#111","strokeWidth":1}},"encoding":{"x":{"field":"c","type":"nominal"},"y":{"field":"lo","type":"quantitative","title":"mRNA Fold Increase"},"y2":{"field":"hi"}}},
{"data":{"name":"sig"},"transform":[],"mark":{"type":"rule","color":"#111","strokeWidth":1,"xOffset":1,"x2Offset":5},"encoding":{"x":{"field":"a","type":"nominal"},"x2":{"field":"b"},"y":{"field":"v","type":"quantitative"}}},
{"data":{"name":"s1"},"transform":[],"mark":{"type":"text","fontSize":17,"color":"#111","dx":4,"dy":3},"encoding":{"x":{"field":"c","type":"nominal"},"y":{"field":"v","type":"quantitative"},"text":{"field":"t"}}},
{"data":{"name":"s2"},"transform":[],"mark":{"type":"text","fontSize":17,"color":"#111","dx":25,"dy":3},"encoding":{"x":{"field":"c","type":"nominal"},"y":{"field":"v","type":"quantitative"},"text":{"field":"t"}}}
]}
],"spacing":6},
{"align":"none","hconcat":[
{"width":134,"height":182,"title":{"text":"BIRC3","fontStyle":"italic","fontSize":12,"offset":-1,"color":"#222"},"data":{"name":"bars"},"transform":[{"filter":"datum.gene=='BIRC3'"}],
"layer":[
{"mark":{"type":"bar","color":"#808080","stroke":"#bbbbbb","strokeWidth":1},"encoding":{"x":{"field":"c","type":"nominal","sort":null,"title":null,"scale":{"domain":["Nt","siHIF-1α","siNPM1"],"paddingInner":0.335,"paddingOuter":0.18,"align":0.864},"axis":{"labelAngle":0,"labelFontSize":12,"labelColor":"#222","domainColor":"#111","domainWidth":1.5,"tickColor":"#111","tickSize":6,"labelPadding":3,"labelOverlap":false}},"y":{"field":"v","type":"quantitative","title":"mRNA Fold Increase","scale":{"domain":[0,1.5],"nice":false},"axis":{"values":[0,0.5,1,1.5],"offset":-6,"labelExpr":"datum.value==0?'0':format(datum.value,'.1f')","labelOverlap":false,"labelFlush":false,"grid":false,"labelFontSize":12,"labelColor":"#333","titleFontSize":14,"titleColor":"#222","domainColor":"#111","domainWidth":1.5,"tickColor":"#111","tickSize":5,"labelPadding":3,"titlePadding":7}}}},
{"mark":{"type":"errorbar","ticks":{"size":17,"color":"#111","strokeWidth":1.5},"rule":{"color":"#111","strokeWidth":1}},"encoding":{"x":{"field":"c","type":"nominal"},"y":{"field":"lo","type":"quantitative","title":"mRNA Fold Increase"},"y2":{"field":"hi"}}},
{"data":{"name":"sig"},"transform":[],"mark":{"type":"rule","color":"#111","strokeWidth":1,"xOffset":1,"x2Offset":5},"encoding":{"x":{"field":"a","type":"nominal"},"x2":{"field":"b"},"y":{"field":"v","type":"quantitative"}}},
{"data":{"name":"s1"},"transform":[],"mark":{"type":"text","fontSize":17,"color":"#111","dx":4,"dy":3},"encoding":{"x":{"field":"c","type":"nominal"},"y":{"field":"v","type":"quantitative"},"text":{"field":"t"}}},
{"data":{"name":"s2"},"transform":[],"mark":{"type":"text","fontSize":17,"color":"#111","dx":25,"dy":3},"encoding":{"x":{"field":"c","type":"nominal"},"y":{"field":"v","type":"quantitative"},"text":{"field":"t"}}}
]},
{"width":128,"height":182,"title":{"text":"FA2H","fontStyle":"italic","fontSize":12,"offset":-1,"color":"#222"},"data":{"name":"bars"},"transform":[{"filter":"datum.gene=='FA2H'"}],
"layer":[
{"mark":{"type":"bar","color":"#808080","stroke":"#bbbbbb","strokeWidth":1},"encoding":{"x":{"field":"c","type":"nominal","sort":null,"title":null,"scale":{"domain":["Nt","siHIF-1α","siNPM1"],"paddingInner":0.335,"paddingOuter":0.13,"align":0.78},"axis":{"labelAngle":0,"labelFontSize":12,"labelColor":"#222","domainColor":"#111","domainWidth":1.5,"tickColor":"#111","tickSize":6,"labelPadding":3,"labelOverlap":false}},"y":{"field":"v","type":"quantitative","title":"mRNA Fold Increase","scale":{"domain":[0,1.5],"nice":false},"axis":{"values":[0,0.5,1,1.5],"labelExpr":"datum.value==0?'0':format(datum.value,'.1f')","labelOverlap":false,"labelFlush":false,"grid":false,"labelFontSize":12,"labelColor":"#333","titleFontSize":14,"titleColor":"#222","domainColor":"#111","domainWidth":1.5,"tickColor":"#111","tickSize":5,"labelPadding":3,"titlePadding":2}}}},
{"mark":{"type":"errorbar","ticks":{"size":17,"color":"#111","strokeWidth":1.5},"rule":{"color":"#111","strokeWidth":1}},"encoding":{"x":{"field":"c","type":"nominal"},"y":{"field":"lo","type":"quantitative","title":"mRNA Fold Increase"},"y2":{"field":"hi"}}},
{"data":{"name":"sig"},"transform":[],"mark":{"type":"rule","color":"#111","strokeWidth":1,"xOffset":1,"x2Offset":5},"encoding":{"x":{"field":"a","type":"nominal"},"x2":{"field":"b"},"y":{"field":"v","type":"quantitative"}}},
{"data":{"name":"s1"},"transform":[],"mark":{"type":"text","fontSize":17,"color":"#111","dx":4,"dy":3},"encoding":{"x":{"field":"c","type":"nominal"},"y":{"field":"v","type":"quantitative"},"text":{"field":"t"}}},
{"data":{"name":"s2"},"transform":[],"mark":{"type":"text","fontSize":17,"color":"#111","dx":25,"dy":3},"encoding":{"x":{"field":"c","type":"nominal"},"y":{"field":"v","type":"quantitative"},"text":{"field":"t"}}}
]}
],"spacing":1}
],"spacing":16}
],"spacing":-21}
]}
